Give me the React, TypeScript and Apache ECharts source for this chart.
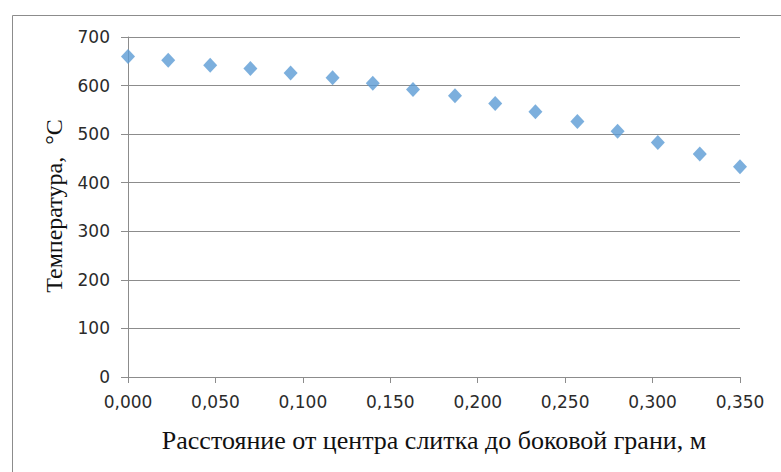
import React, { useEffect, useRef } from "react";
import * as echarts from "echarts";

const distances = [0, 0.023, 0.047, 0.07, 0.093, 0.117, 0.14, 0.163, 0.187, 0.21, 0.233, 0.257, 0.28, 0.303, 0.327, 0.35];
const temperatures = [660, 652, 642, 635, 626, 616, 605, 592, 579, 563, 546, 526, 506, 483, 459, 433];
const xTitle = "Расстояние от центра слитка до боковой грани, м";
const yTitle = "Температура,  °С";

export default function App() {
  const ref = useRef<HTMLDivElement>(null);
  useEffect(() => {
    if (!ref.current) return;
    const chart = echarts.init(ref.current, null, { renderer: "svg" });
    const axisColor = "#8c8c8c";
    const labelFont = { fontFamily: "DejaVu Sans", fontSize: 17, color: "#2b2b2b" };
    chart.setOption({
      animation: false,
      backgroundColor: "#ffffff",
      grid: { left: 128, right: 41, top: 37, bottom: 95 },
      xAxis: {
        type: "value",
        min: 0,
        max: 0.35,
        interval: 0.05,
        axisLine: { show: true, lineStyle: { color: axisColor, width: 1 } },
        axisTick: { show: true, length: 6, lineStyle: { color: axisColor } },
        splitLine: { show: false },
        axisLabel: {
          ...labelFont,
          margin: 16,
          formatter: (v: number) => v.toFixed(3).replace(".", ","),
        },
      },
      yAxis: {
        type: "value",
        min: 0,
        max: 700,
        interval: 100,
        axisLine: { show: true, lineStyle: { color: axisColor, width: 1 } },
        axisTick: { show: true, length: 7, lineStyle: { color: axisColor } },
        splitLine: { show: true, lineStyle: { color: axisColor, width: 1 } },
        axisLabel: { ...labelFont, margin: 18 },
      },
      series: [
        {
          type: "scatter",
          symbol: "diamond",
          symbolSize: [14, 15],
          itemStyle: { color: "#5b9bd5" },
          data: distances.map((d, i) => [d, temperatures[i]]),
        },
      ],
      graphic: [
        {
          type: "rect",
          shape: { x: 12.5, y: 15.5, width: 800, height: 500 },
          style: { fill: "none", stroke: "#8c8c8c", lineWidth: 1 },
          silent: true,
        },
        {
          type: "text",
          x: 434,
          y: 440,
          style: {
            text: xTitle,
            fontFamily: "Liberation Serif",
            fontSize: 26,
            fill: "#111111",
            textAlign: "center",
            textVerticalAlign: "middle",
          },
        },
        {
          type: "text",
          x: 54,
          y: 206,
          rotation: Math.PI / 2,
          style: {
            text: yTitle,
            fontFamily: "Liberation Serif",
            fontSize: 24,
            fill: "#111111",
            textAlign: "center",
            textVerticalAlign: "middle",
          },
        },
      ],
    });
    return () => chart.dispose();
  }, []);
  return <div ref={ref} style={{ width: 781, height: 472, position: "absolute", left: 0, top: 0 }} />;
}
